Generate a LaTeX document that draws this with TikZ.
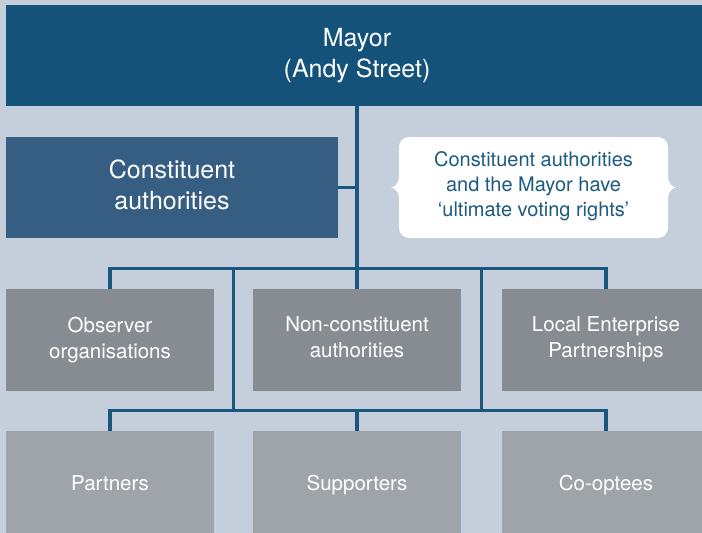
\documentclass[tikz,border=0pt]{standalone}
\usepackage{fontspec}
\setmainfont{TeX Gyre Heros}
\definecolor{bgc}{HTML}{C5CFDB}
\definecolor{mayorc}{HTML}{15527A}
\definecolor{constc}{HTML}{355E82}
\definecolor{midc}{HTML}{878C92}
\definecolor{lowc}{HTML}{9EA4AA}
\definecolor{linec}{HTML}{1A567E}
\definecolor{calltext}{HTML}{1D5A80}
\newcommand{\topstrut}{\rule[-0.2\baselineskip]{0pt}{1.03\baselineskip}}
\newcommand{\bigtopstrut}{\rule[-0.2\baselineskip]{0pt}{1.16\baselineskip}}
\tikzset{
  boxbase/.style={inner sep=0pt, align=center, text=white,
    execute at begin node=\topstrut, execute at end node=\topstrut},
  bigbox/.style={inner sep=0pt, align=center, text=white, font=\fontsize{25}{31}\selectfont,
    execute at begin node=\bigtopstrut, execute at end node=\topstrut},
  midbox/.style={boxbase, fill=midc, minimum width=208pt, minimum height=102pt, font=\fontsize{20.5}{26}\selectfont},
  lowbox/.style={boxbase, fill=lowc, minimum width=208pt, minimum height=102pt, font=\fontsize{20.5}{26}\selectfont},
  conn/.style={draw=linec, line width=3.2pt}
}
\begin{document}
\begin{tikzpicture}[x=1pt,y=-1pt]
\useasboundingbox (0,0) rectangle (702,533);
\clip (0,0) rectangle (702,533);
\fill[bgc] (0,0) rectangle (702,533);

% top boxes
\node[bigbox, fill=mayorc, minimum width=702pt, minimum height=100.5pt] (mayor) at (357,55.5) {Mayor\\(Andy Street)};
\node[bigbox, fill=constc, minimum width=332pt, minimum height=101.5pt] (const) at (172,187.3) {Constituent\\authorities};

% callout
\fill[white] (409,137) -- (658,137) .. controls (663.5,137) and (668,141.5) .. (668,147) -- (668,176)
  .. controls (668,184) and (673,187.5) .. (676,187.5) .. controls (673,187.5) and (668,191) .. (668,199)
  -- (668,228) .. controls (668,233.5) and (663.5,238) .. (658,238) -- (409,238)
  .. controls (403.5,238) and (399,233.5) .. (399,228) -- (399,199)
  .. controls (399,191) and (394,187.5) .. (391,187.5) .. controls (394,187.5) and (399,184) .. (399,176)
  -- (399,147) .. controls (399,141.5) and (403.5,137) .. (409,137) -- cycle;
\node[boxbase, text=calltext, font=\fontsize{20}{25}\selectfont] (callout) at (533.5,186.5) {Constituent authorities\\and the Mayor have\\‘ultimate voting rights’};

% middle row
\node[midbox] (obs) at (110,340) {Observer\\organisations};
\node[midbox] (noncon) at (357,340) {Non-constituent\\authorities};
\node[midbox] (lep) at (606,340) {Local Enterprise\\Partnerships};

% bottom row
\node[lowbox] (partners) at (110,482) {Partners};
\node[lowbox] (supp) at (357,482) {Supporters};
\node[lowbox] (coopt) at (606,482) {Co-optees};

% connectors
\coordinate (ub) at (357,268.5);
\coordinate (lb) at (357,410.5);
\coordinate (ul) at (233.5,268.5);
\coordinate (ur) at (481.5,268.5);
\coordinate (ll) at (233.5,410.5);
\coordinate (lr) at (481.5,410.5);

\draw[conn] (mayor.south -| noncon.north) -- (noncon.north);
\draw[conn] (const.east) -- (const.east -| noncon.north);
\draw[conn] (obs.north) |- (ub) -| (lep.north);
\draw[conn] (ul) -- (ll);
\draw[conn] (ur) -- (lr);
\draw[conn] (partners.north) |- (lb) -| (coopt.north);
\draw[conn] (lb) -- (supp.north);
\end{tikzpicture}
\end{document}
